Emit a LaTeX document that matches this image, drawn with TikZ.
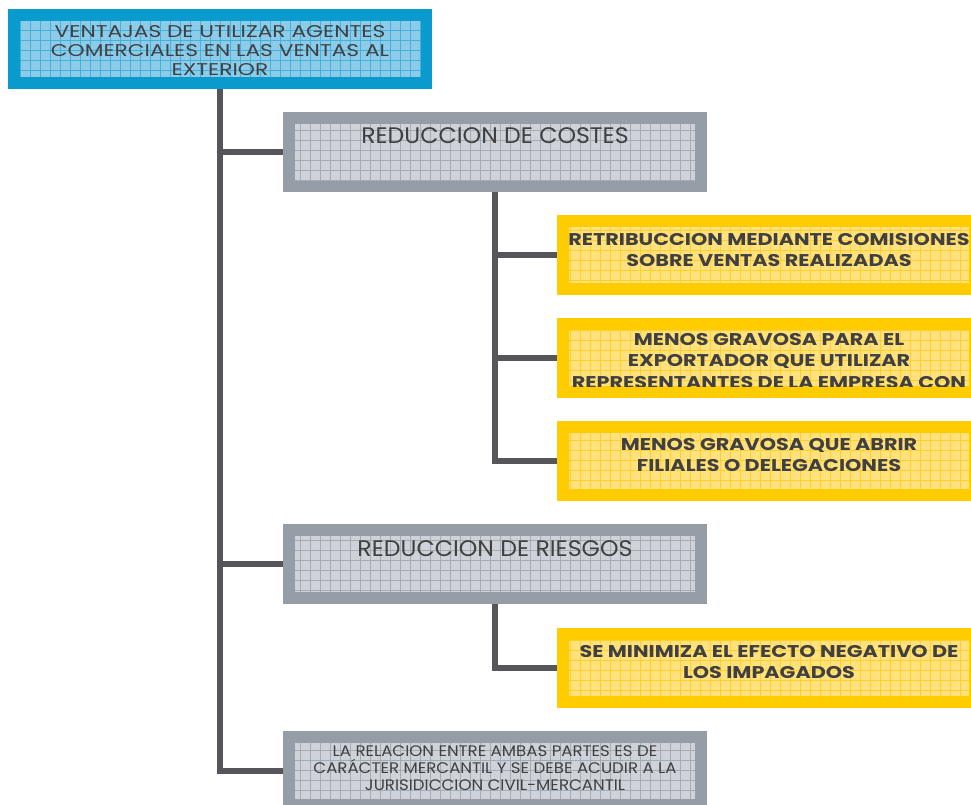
\documentclass[tikz,border=0pt]{standalone}
\usepackage{fontspec}
\setmainfont{Poppins}
% wide variants of the same family for the box labels
\newfontfamily\titlefont{Poppins}[FakeStretch=1.28]
\newfontfamily\topicfont{Poppins}[FakeStretch=1.05]
\newfontfamily\notefont{Poppins}[FakeStretch=1.085]
\newfontfamily\pointfont{Poppins}[FakeStretch=1.22]

\definecolor{bluebd}{RGB}{10,155,206}
\definecolor{bluein}{RGB}{140,204,232}
\definecolor{bluegr}{RGB}{70,176,220}
\definecolor{graybd}{RGB}{149,158,167}
\definecolor{grayin}{RGB}{207,211,217}
\definecolor{graygr}{RGB}{163,171,180}
\definecolor{yelbd}{RGB}{255,204,0}
\definecolor{yelin}{RGB}{255,226,125}
\definecolor{yelgr}{RGB}{255,208,45}
\definecolor{connc}{RGB}{86,86,90}
\definecolor{txt}{RGB}{64,64,66}

\tikzset{
  conn/.style={draw=connc, line width=6.5pt},
  boxbase/.style={minimum width=424pt, minimum height=80pt, inner sep=0pt, outer sep=0pt},
  rootbox/.style={boxbase, fill=bluebd},
  topicbox/.style={boxbase, fill=graybd},
  pointbox/.style={boxbase, fill=yelbd},
  lbl/.style={anchor=north, inner sep=0pt, outer sep=0pt, align=center, text=txt},
}

% tiled inner panel of a box: #1 node, #2 fill, #3 grid colour
\newcommand\tilepanel[3]{%
  \fill[#2] ([shift={(12,12)}]#1.north west) rectangle ([shift={(-12,-12)}]#1.south east);
  \draw[#3, line width=0.7pt, step=10pt] ([shift={(12,12)}]#1.north west) grid ([shift={(-12,-12)}]#1.south east);
}
% text clipped to the inner panel: #1 node, #2 x, #3 y of cap top, #4 font, #5 text
\newcommand\paneltext[5]{%
  \begin{scope}
    \clip ([shift={(12,12)}]#1.north west) rectangle ([shift={(-12,-12)}]#1.south east);
    \node[lbl, font=#4] (#1-t) at (#2,#3) {#5};
  \end{scope}}

\newcommand\lightA{\titlefont\fontsize{17pt}{19.3pt}\selectfont}
\newcommand\lightB{\topicfont\fontsize{22.5pt}{26pt}\selectfont}
\newcommand\lightC{\notefont\fontsize{15.3pt}{17pt}\selectfont}
\newcommand\boldA{\pointfont\fontsize{17pt}{21.7pt}\selectfont\bfseries}

\begin{document}
\begin{tikzpicture}[x=1pt,y=-1pt]
\useasboundingbox (0,0) rectangle (971,804);
\clip (0,0) rectangle (971,804);

% boxes
\node[rootbox]  (root) at (220,49) {};
\node[topicbox] (g1) at (495,152) {};
\node[topicbox] (g2) at (495,564) {};
\node[topicbox] (g3) at (495,771) {};
\node[pointbox] (y1) at (769,255) {};
\node[pointbox] (y2) at (769,358) {};
\node[pointbox] (y3) at (769,461) {};
\node[pointbox] (y4) at (769,668) {};

% connectors
\draw[conn] (root.south) |- (g1.west);
\draw[conn] (root.south) |- (g2.west);
\draw[conn] (root.south) |- (g3.west);
\draw[conn] (g1.south) |- (y1.west);
\draw[conn] (g1.south) |- (y2.west);
\draw[conn] (g1.south) |- (y3.west);
\draw[conn] (g2.south) |- (y4.west);

% panels
\tilepanel{root}{bluein}{bluegr}
\tilepanel{g1}{grayin}{graygr}
\tilepanel{g2}{grayin}{graygr}
\tilepanel{g3}{grayin}{graygr}
\tilepanel{y1}{yelin}{yelgr}
\tilepanel{y2}{yelin}{yelgr}
\tilepanel{y3}{yelin}{yelgr}
\tilepanel{y4}{yelin}{yelgr}

% labels
\paneltext{root}{220}{25}{\lightA}{VENTAJAS DE UTILIZAR AGENTES\\COMERCIALES EN LAS VENTAS AL\\EXTERIOR}
\paneltext{g1}{495}{128}{\lightB}{REDUCCION DE COSTES}
\paneltext{g2}{495}{541}{\lightB}{REDUCCION DE RIESGOS}
\paneltext{g3}{495}{746}{\lightC}{LA RELACION ENTRE AMBAS PARTES ES DE\\CARÁCTER MERCANTIL Y SE DEBE ACUDIR A LA\\JURISIDICCION CIVIL-MERCANTIL}
\paneltext{y1}{769}{233}{\boldA}{RETRIBUCCION MEDIANTE COMISIONES\\SOBRE VENTAS REALIZADAS}
\paneltext{y2}{769}{333}{\boldA}{MENOS GRAVOSA PARA EL\\EXPORTADOR QUE UTILIZAR\\REPRESENTANTES DE LA EMPRESA CON}
\paneltext{y3}{769}{438}{\boldA}{MENOS GRAVOSA QUE ABRIR\\FILIALES O DELEGACIONES}
\paneltext{y4}{769}{645}{\boldA}{SE MINIMIZA EL EFECTO NEGATIVO DE\\LOS IMPAGADOS}
\end{tikzpicture}
\end{document}
